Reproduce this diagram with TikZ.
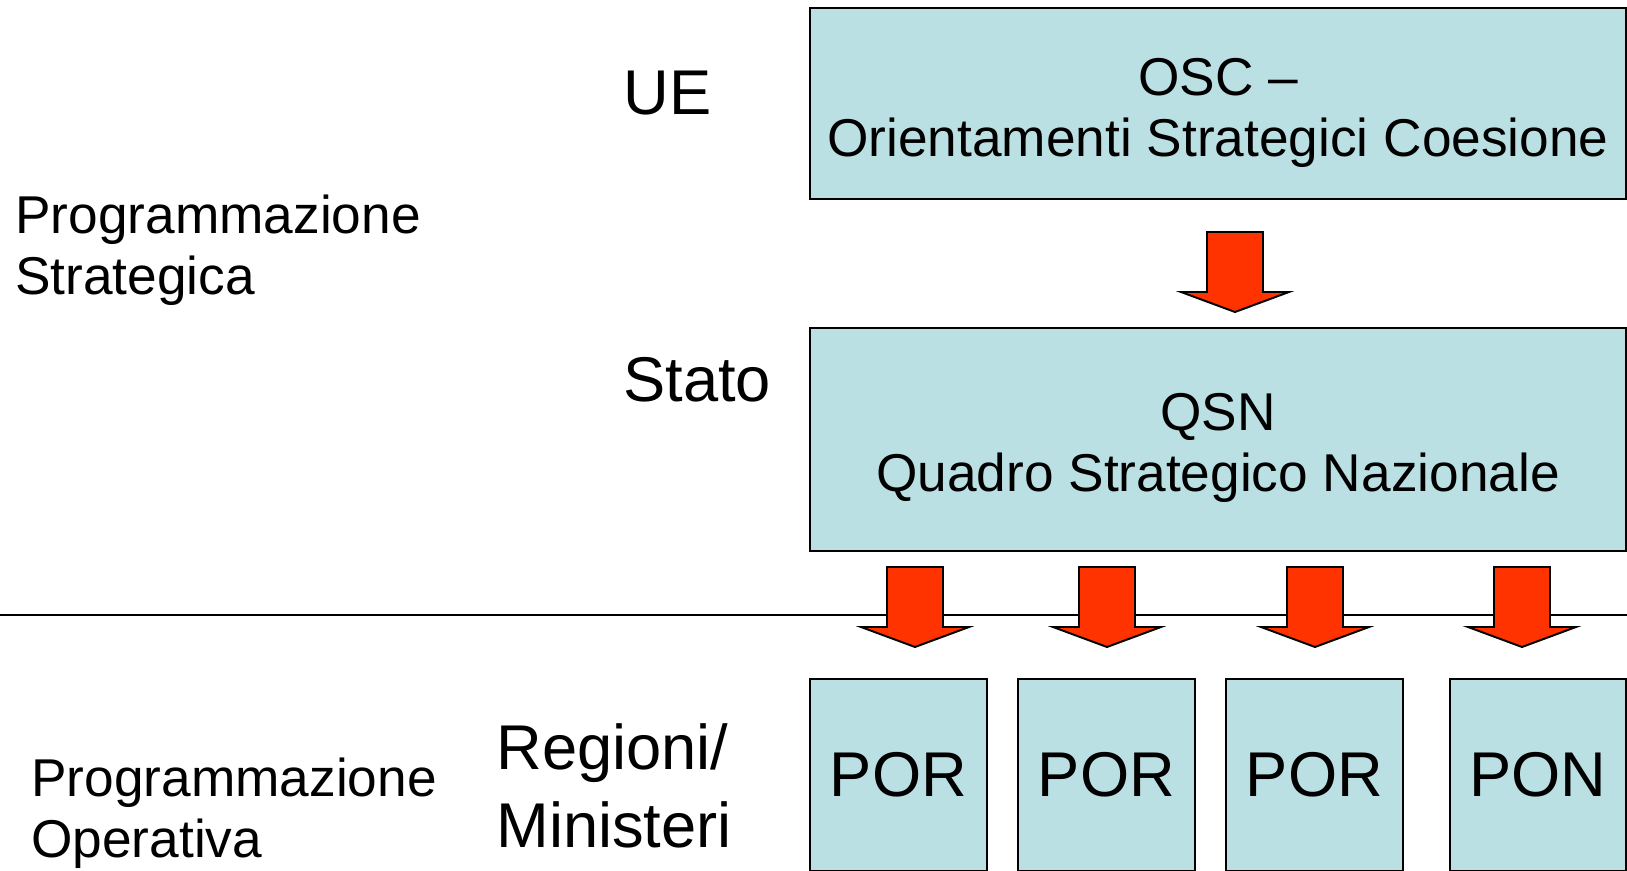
\documentclass[tikz,border=0pt]{standalone}
\usepackage{fontspec}
\setmainfont{Liberation Sans}
\definecolor{boxblue}{RGB}{187,224,227}
\definecolor{arrowred}{RGB}{255,51,0}

\begin{document}
\begin{tikzpicture}[x=0.02cm, y=-0.02cm,
    livello/.style={inner sep=0pt, anchor=west, align=left, font=\fontsize{36}{44}\selectfont},
    fase/.style={inner sep=0pt, anchor=west, align=left, font=\fontsize{30.3}{35}\selectfont},
    scatola/.style={draw, line width=1.1pt, fill=boxblue, inner sep=0pt},
    testo/.style={inner sep=0pt, align=center, font=\fontsize{30.3}{35}\selectfont},
    programma/.style={scatola, minimum height=3.84cm, font=\fontsize{36}{44}\selectfont},
    freccia/.pic={
        % freccia piena: origine in alto al centro del fusto
        \draw[fill=arrowred, line width=1.1pt, line join=miter]
            (-28,0) -- (28,0) -- (28,60) -- (54,60) -- (0,80)
            -- (-54,60) -- (-28,60) -- cycle;
    }]

    \useasboundingbox (0,0) rectangle (1627,870);

    % 1. Linea di separazione tra programmazione strategica e operativa
    \draw[line width=1pt] (0,615) -- (1627,615);

    % 2. Livelli a sinistra
    \node[fase] (strategica) at (15,250) {Programmazione\\Strategica};
    \node[fase] (operativa) at (31,813) {Programmazione\\Operativa};
    \node[livello] (ue) at (623,93) {UE};
    \node[livello] (stato) at (623,380) {Stato};
    \node[livello] (regioni) at (496,786) {Regioni/\\Ministeri};

    % 3. Documenti strategici
    \node[scatola, minimum width=16.32cm, minimum height=3.82cm] (osc) at (1218,103.5) {};
    \node[testo] (osc-testo) at (1218,113) {OSC –\\Orientamenti Strategici Coesione};
    \node[scatola, minimum width=16.32cm, minimum height=4.46cm] (qsn) at (1218,439.5) {};
    \node[testo] (qsn-testo) at (1218,448) {QSN\\Quadro Strategico Nazionale};

    % 4. Programmi operativi (tagliati dal bordo inferiore)
    \node[programma, minimum width=3.54cm] (por1) at (898.5,775) {POR};
    \node[programma, minimum width=3.54cm] (por2) at (1106.5,775) {POR};
    \node[programma, minimum width=3.54cm] (por3) at (1314.5,775) {POR};
    \node[programma, minimum width=3.52cm] (pon) at (1538,775) {PON};

    % 5. Frecce
    \pic at (1235,232) {freccia};
    \foreach \x in {915,1107,1315,1522}
        \pic at (\x,567) {freccia};

\end{tikzpicture}
\end{document}
